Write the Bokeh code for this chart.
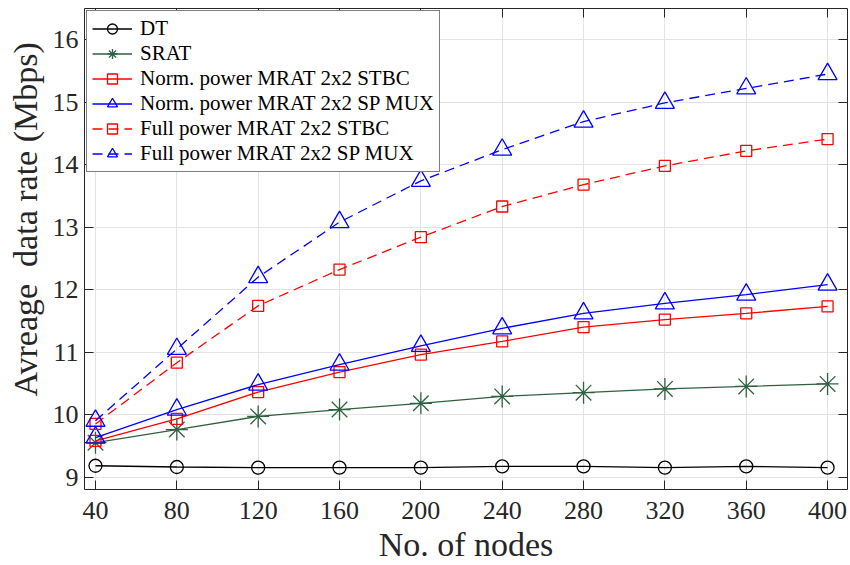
import math
from bokeh.plotting import figure
from bokeh.models import Range1d, LinearAxis, FixedTicker, Title
from bokeh.embed import file_html
from bokeh.resources import INLINE

# ---- data ----
nodes = [40, 80, 120, 160, 200, 240, 280, 320, 360, 400]
dt = [9.18, 9.16, 9.15, 9.15, 9.15, 9.17, 9.17, 9.15, 9.17, 9.15]
srat = [9.55, 9.76, 9.97, 10.08, 10.18, 10.29, 10.35, 10.41, 10.45, 10.49]
norm_stbc = [9.58, 9.93, 10.36, 10.68, 10.96, 11.17, 11.40, 11.52, 11.62, 11.73]
norm_mux = [9.63, 10.08, 10.48, 10.80, 11.10, 11.38, 11.62, 11.78, 11.92, 12.08]
full_stbc = [9.85, 10.83, 11.74, 12.32, 12.84, 13.33, 13.68, 13.98, 14.22, 14.41]
full_mux = [9.90, 11.05, 12.20, 13.08, 13.74, 14.24, 14.69, 14.99, 15.22, 15.45]

series_names = ["DT", "SRAT", "Norm. power MRAT 2x2 STBC", "Norm. power MRAT 2x2 SP MUX",
                "Full power MRAT 2x2 STBC", "Full power MRAT 2x2 SP MUX"]
x_ticks = [40, 80, 120, 160, 200, 240, 280, 320, 360, 400]
y_ticks = [9, 10, 11, 12, 13, 14, 15, 16]
x_label = "No. of nodes"
y_label = "Avreage\u00a0 data rate (Mbps)"

FONT = "Liberation Serif"
AX = "#262626"

p = figure(width=850, height=565, output_backend="svg", toolbar_location=None,
           x_range=Range1d(34.6, 409.8), y_range=Range1d(8.8, 16.5),
           min_border_left=84, min_border_right=3, min_border_top=8, min_border_bottom=75)
p.outline_line_color = None
p.background_fill_color = "white"
p.border_fill_color = "white"

styles = [
    ("black", "circle", 13, "solid"),
    ("#2F6140", "asterisk", 22, "solid"),
    ("#FF0000", "square", 11, "solid"),
    ("#0000FF", "triangle", 19, "solid"),
    ("#FF0000", "square", 11, "10 6"),
    ("#0000FF", "triangle", 19, "10 6"),
]
all_vals = [dt, srat, norm_stbc, norm_mux, full_stbc, full_mux]
for name, vals, (col, mk, sz, dash) in zip(series_names, all_vals, styles):
    p.line(nodes, vals, line_color=col, line_width=1.3, line_dash=dash, legend_label=name)
    p.scatter(nodes, vals, marker=mk, size=sz, line_color=col, fill_color=None,
              line_width=1.3, legend_label=name)

# grid
p.xgrid.ticker = FixedTicker(ticks=x_ticks)
p.ygrid.ticker = FixedTicker(ticks=y_ticks)
p.grid.grid_line_color = "#e3e3e3"
p.grid.grid_line_width = 1

# axes
bottom = p.below[0]
left = p.left[0]
bottom.ticker = FixedTicker(ticks=x_ticks)
left.ticker = FixedTicker(ticks=y_ticks)
top = LinearAxis(ticker=FixedTicker(ticks=x_ticks), major_label_overrides={t: "" for t in x_ticks})
right = LinearAxis(ticker=FixedTicker(ticks=y_ticks), major_label_overrides={t: "" for t in y_ticks})
p.add_layout(top, "above")
p.add_layout(right, "right")
for ax in [bottom, left, top, right]:
    ax.axis_line_color = AX
    ax.axis_line_width = 1
    ax.major_tick_line_color = AX
    ax.major_tick_in = 9
    ax.major_tick_out = 0
    ax.minor_tick_line_color = None
    ax.major_label_text_font = FONT
    ax.major_label_text_font_size = "26px"
    ax.major_label_text_color = AX
top.major_label_standoff = 0
right.major_label_standoff = 0
left.major_label_standoff = 6

# axis titles
bottom.axis_label = x_label
bottom.axis_label_text_font = FONT
bottom.axis_label_text_font_size = "34px"
bottom.axis_label_text_font_style = "normal"
bottom.axis_label_text_color = AX
bottom.major_label_standoff = 12
bottom.axis_label_standoff = 4

yt = Title(text=y_label, align="left", offset=93, vertical_align="middle",
           text_font=FONT, text_font_size="34px", text_font_style="normal",
           text_color=AX, standoff=9)
p.add_layout(yt, "left")

# legend
lg = p.legend[0]
lg.location = "top_left"
lg.margin = 2
lg.padding = 5
lg.spacing = 0
lg.glyph_width = 40
lg.glyph_height = 25
lg.label_height = 25
lg.label_standoff = 8
lg.label_text_font = FONT
lg.label_text_font_size = "21px"
lg.label_text_color = "black"
lg.border_line_color = "black"
lg.border_line_width = 1
lg.background_fill_color = "white"
lg.background_fill_alpha = 1.0

open("out.html", "w").write(file_html(p, INLINE))
